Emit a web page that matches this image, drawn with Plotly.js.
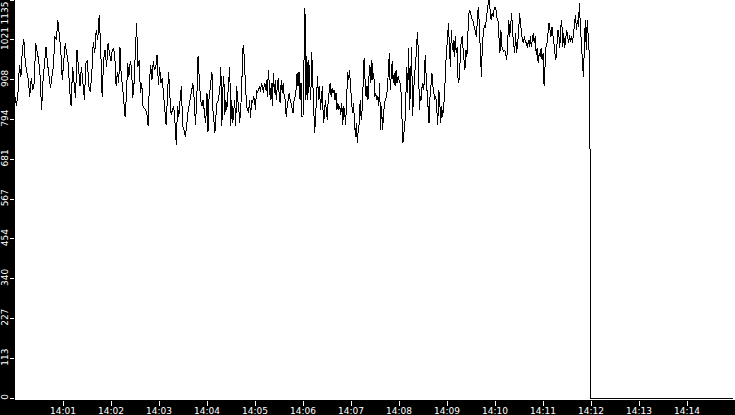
<!DOCTYPE html>
<html>
<head>
<meta charset="utf-8">
<script src="https://cdn.plot.ly/plotly-3.0.1.min.js"></script>
<style>
   html, body { margin: 0; padding: 0; background: #000; }
   #graph { width: 735px; height: 415px; }
   #graph .scatterlayer path.js-line { shape-rendering: crispEdges; }
</style>
</head>
<body>
<div id="graph"></div>
<script>
const DAY = '2024-01-01';

// two-minute blocks, values (spread evenly inside each block)
const blockStarts = ['14:00:00', '14:02:00', '14:04:00', '14:06:00', '14:08:00', '14:10:00'];
const blockSeconds = [120, 120, 120, 120, 120, 119];

const block0 = [860, 832, 870, 950, 917, 993, 1023, 955, 931, 907, 860, 912, 879, 898, 1012, 993, 964, 917, 822, 907,
   945, 1002, 955, 926, 884, 917, 945, 1031, 1021, 1078, 1040, 993, 907, 964, 1012, 983, 955, 879, 832, 945,
   889, 855, 993, 945, 889, 945, 907, 851, 955, 964, 889, 874, 926, 1016, 983, 1050, 1021, 1092, 1002, 860,
   964, 993, 945, 1012, 983];
const block1 = [960, 993, 998, 974, 889, 931, 898, 1002, 917, 889, 841, 803, 860, 955, 917, 960, 945, 855, 898, 983,
   1069, 945, 964, 870, 898, 832, 827, 822, 813, 775, 898, 950, 907, 960, 936, 945, 979, 893, 945, 898,
   912, 860, 832, 780, 851, 931, 860, 808, 822, 832, 784, 723, 832, 803, 851, 889, 775, 765, 746, 770,
   813, 832, 851, 879, 898, 851, 780, 851, 974, 907, 851, 832, 851, 813, 784];
const block2 = [870, 760, 851, 879, 917, 931, 822, 784, 756, 803, 841, 846, 860, 879, 945, 775, 879, 917, 808, 851,
   822, 860, 898, 945, 775, 851, 784, 832, 851, 775, 889, 851, 832, 784, 851, 870, 993, 1007, 945, 889,
   832, 822, 813, 851, 798, 851, 841, 860, 851, 822, 879, 870, 879, 889, 874, 898, 889, 870, 898, 879,
   907, 860, 936, 879, 851, 898, 832, 926, 870, 907, 851, 889, 912, 860, 841, 907, 870, 898, 860, 851,
   803, 832, 851, 870, 851, 832, 827, 813, 851, 860, 879, 926, 889, 931, 851, 898, 803];
const block3 = [803, 1050, 1111, 851, 974, 851, 964, 898, 851, 988, 898, 803, 756, 803, 851, 917, 851, 889, 822, 860,
   889, 784, 803, 851, 822, 794, 851, 870, 898, 860, 884, 870, 879, 851, 870, 822, 841, 822, 832, 808,
   841, 780, 832, 813, 780, 851, 931, 907, 936, 889, 841, 813, 841, 794, 746, 784, 727, 765, 784, 851,
   794, 822, 917, 969, 907, 860, 889, 851, 917, 950, 898, 964, 907, 926, 860, 870, 851, 860, 832, 898,
   765, 832, 765, 822, 841, 851, 860, 879, 936, 983, 879, 917, 960, 898, 926, 889, 936, 898, 917];
const block4 = [907, 898, 879, 803, 727, 756, 775, 851, 945, 870, 998, 822, 917, 1002, 803, 889, 926, 945, 1021, 1045,
   983, 822, 860, 851, 898, 879, 898, 979, 917, 870, 851, 784, 860, 907, 926, 889, 870, 851, 860, 813,
   780, 879, 851, 784, 832, 803, 841, 860, 945, 983, 1012, 1069, 1002, 945, 1050, 993, 1021, 974, 1031, 983,
   1002, 898, 907, 974, 1012, 1031, 983, 964, 936, 993, 974, 1069, 1097, 1107, 1088, 1083, 1078, 1069, 1054, 1040,
   1031, 1097, 1116, 1050, 983, 917, 1012, 1050, 1064, 1054, 1078, 1107, 1126, 1135, 1107, 1078, 1097, 1088, 1107];
const block5 = [1116, 1107, 1083, 1078, 1031, 983, 1050, 1002, 993, 988, 993, 979, 964, 1021, 1078, 1031, 1059, 1097, 1040, 1012,
   983, 1040, 983, 1012, 1040, 1097, 1059, 1040, 1021, 1012, 1031, 1012, 1016, 998, 1021, 1002, 1031, 1002, 1021, 1040,
   1012, 1031, 979, 998, 955, 983, 974, 998, 964, 983, 889, 955, 1002, 1012, 1040, 1069, 1050, 1031, 1059, 1040,
   1012, 983, 964, 1002, 1050, 1040, 998, 1059, 1078, 1002, 1040, 998, 1021, 1050, 1031, 1012, 1035, 1016, 1031, 1012,
   1040, 1078, 1092, 1050, 1078, 1059, 1126, 1059, 1021, 960, 917, 993, 1078, 993, 1078, 1031, 983];
const blocks = [block0, block1, block2, block3, block4, block5];

// the drop at the end
const tailTimes = ['14:11:59.4', '14:12:00', '14:14:58'];
const tailValues = [532, 0, 0];

const xTickTimes = ['14:01', '14:02', '14:03', '14:04', '14:05', '14:06', '14:07', '14:08',
   '14:09', '14:10', '14:11', '14:12', '14:13', '14:14', '14:15'];
const yTickValues = [0, 113.5, 227, 340.5, 454, 567.5, 681, 794.5, 908, 1021.5, 1135];
const yTickLabels = ['0', '113', '227', '340', '454', '567', '681', '794', '908', '1021', ''];
const yTopLabel = '1135';

function toSeconds(hms) {
   const p = hms.split(':').map(Number);
   return p[0] * 3600 + p[1] * 60 + (p[2] || 0);
}

function toDateString(sec) {
   const h = Math.floor(sec / 3600);
   const m = Math.floor((sec % 3600) / 60);
   const s = sec - h * 3600 - m * 60;
   const pad = n => String(n).padStart(2, '0');
   return `${DAY} ${pad(h)}:${pad(m)}:${s.toFixed(3).padStart(6, '0')}`;
}

function buildTrace() {
   const x = [];
   const y = [];
   blocks.forEach((vals, b) => {
      const start = toSeconds(blockStarts[b]);
      const step = blockSeconds[b] / vals.length;
      vals.forEach((v, i) => {
         x.push(toDateString(start + i * step));
         y.push(v);
      });
   });
   tailTimes.forEach((t, i) => {
      x.push(toDateString(toSeconds(t)));
      y.push(tailValues[i]);
   });
   return {x: x, y: y, mode: 'lines', line: {color: '#000', width: 1}, hoverinfo: 'skip'};
}

const tickFont = {family: 'DejaVu Sans', size: 9, color: '#fff'};

const layout = {
   width: 735,
   height: 415,
   margin: {l: 15, r: 0, t: 0, b: 15, pad: 0},
   paper_bgcolor: '#000',
   plot_bgcolor: '#fff',
   showlegend: false,
   xaxis: {
      type: 'date',
      range: [`${DAY} 14:00:00`, `${DAY} 14:15:00`],
      tickvals: xTickTimes.map(t => `${DAY} ${t}:00`),
      ticktext: xTickTimes,
      ticks: 'outside',
      ticklen: 5,
      tickwidth: 1,
      tickcolor: '#fff',
      tickfont: tickFont,
      ticklabelstandoff: -3,
      showgrid: false,
      zeroline: false,
      showline: false,
      automargin: false
   },
   yaxis: {
      range: [-5, 1135],
      tickvals: yTickValues,
      ticktext: yTickLabels,
      tickangle: -90,
      ticks: 'outside',
      ticklen: 4,
      tickwidth: 1,
      tickcolor: '#fff',
      tickfont: tickFont,
      ticklabelstandoff: -2,
      showgrid: false,
      zeroline: false,
      showline: false,
      automargin: false
   },
   annotations: [{
      xref: 'paper', yref: 'y',
      x: 0, y: 1135,
      xanchor: 'right', yanchor: 'top',
      xshift: -4,
      text: yTopLabel,
      textangle: -90,
      showarrow: false,
      font: tickFont
   }]
};

Plotly.newPlot('graph', [buildTrace()], layout, {displayModeBar: false, staticPlot: true});
</script>
</body>
</html>
